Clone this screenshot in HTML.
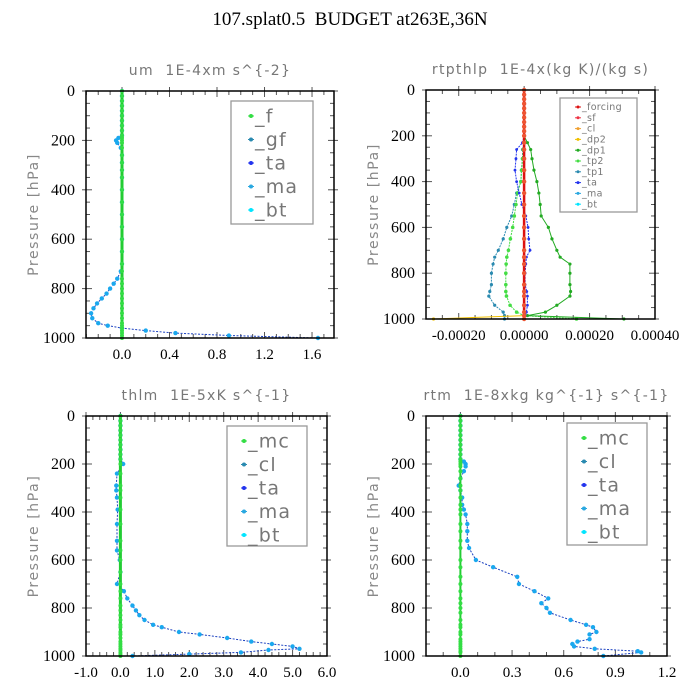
<!DOCTYPE html>
<html><head><meta charset="utf-8"><style>
body{margin:0;background:#fff;}
svg{display:block;}
text{white-space:pre;}
.t{font-family:"Liberation Serif",serif;}
.s{font-family:"DejaVu Sans","Liberation Sans",sans-serif;}
</style></head><body>
<svg id="c" width="700" height="700" viewBox="0 0 700 700" xmlns="http://www.w3.org/2000/svg">
<text class="t" x="350" y="25" text-anchor="middle" font-size="19" xml:space="preserve">107.splat0.5  BUDGET at263E,36N</text>
</svg>
<script>
// ---- Panel 1: um ----
const umLev = [0,20,40,60,80,100,120,140,160,180,190,200,210,230,260,290,320,350,400,450,500,550,600,650,700,730,760,780,800,820,840,860,880,900,920,940,950,960,970,980,990,1000];
const umMain = [0,0,0,0,0,0,0,0,0,0,-0.03,-0.05,-0.04,-0.01,0,0,0,0,0,0,0,0,0,0,0,-0.01,-0.04,-0.07,-0.10,-0.13,-0.17,-0.21,-0.24,-0.26,-0.25,-0.20,-0.12,0.0,0.2,0.45,0.9,1.65];
const umF = umLev.map(()=>0);
const umTicksX = [0.0,0.4,0.8,1.2,1.6];
const umTickLbl = ["0.0","0.4","0.8","1.2","1.6"];
// ---- Panel 2: rtpthlp ----
const rtLev = [0,20,40,60,80,100,120,140,160,180,200,230,260,300,350,400,450,500,550,600,650,700,730,760,800,850,880,900,940,970,985,1000];
const rtDp1 = [0,0,0,0,0,0,0,0,0,0,0,0.00001,0.00002,0.000024,0.00003,0.000039,0.000045,0.000049,0.000052,0.000074,0.000085,0.0001,0.00011,0.00014,0.00014,0.00014,0.000142,0.00014,0.0001,0.000065,0.00001,0.000305];
const rtTp2 = [0,0,0,0,0,0,0,0,0,0,0,0,-0.000003,-0.000005,-0.000008,-0.00001,-0.00002,-0.000025,-0.00003,-0.000035,-0.000042,-0.000048,-0.000053,-0.000055,-0.000056,-0.000056,-0.000056,-0.000054,-0.000043,-0.000023,0,0.00016];
const rtTp1 = [0,0,0,0,0,0,0,0,0,0,0,0,-0.000005,-0.000005,-0.000008,-0.00001,-0.000023,-0.00003,-0.000038,-0.000053,-0.000064,-0.000079,-0.00009,-0.000095,-0.0001,-0.0001,-0.000105,-0.000108,-0.00009,-0.000064,-0.00006,-0.00006];
const rtTa = [0,0,0,0,0,0,0,0,0,0,0,-0.000005,-0.000023,-0.000025,-0.000028,-0.000023,-0.000015,-0.000007,0.000005,0.000012,0.000014,0.000018,0.000007,0.000005,0.000003,0.000003,0.000008,0.00001,0.00001,0.000007,0.000003,0];
const rtDp2 = [0,0,0,0,0,0,0,0,0,0,0,0,0,0,0,0,0,0,0,0,0,0,0,0,0,0,0,0,0,0,0,-0.000277];
const rtTicksX = [-0.0002,0,0.0002,0.0004];
const rtTickLbl = ["-0.00020","0.00000","0.00020","0.00040"];
// ---- Panel 3: thlm ----
const thLev = [0,20,40,60,80,100,120,140,160,180,200,240,290,310,340,390,450,520,560,600,650,700,730,760,790,810,830,850,870,880,900,910,925,940,950,960,970,975,985,992,1000];
const thMain = [0,0,0,0,0,0,0,0,0,0,0.08,-0.1,-0.12,-0.12,-0.1,-0.08,-0.1,-0.1,-0.1,-0.02,0,-0.1,0.1,0.2,0.35,0.45,0.55,0.7,0.95,1.2,1.7,2.3,3.1,3.8,4.4,5.0,5.2,4.3,3.5,2.0,0.35];
const thTicksX = [-1,0,1,2,3,4,5,6];
const thTickLbl = ["-1.0","0.0","1.0","2.0","3.0","4.0","5.0","6.0"];
// ---- Panel 4: rtm ----
const rmLev = [0,20,40,60,80,100,120,140,160,180,190,200,210,230,260,290,310,340,370,390,410,450,480,520,550,600,630,670,700,730,760,780,800,820,850,870,880,900,910,930,940,950,960,970,980,985,1000];
const rmMain = [0,0,0,0,0,0,0,0,0,0,0.02,0.03,0.03,0.02,0,-0.01,0,0.01,0.01,0.02,0.03,0.04,0.04,0.04,0.05,0.09,0.19,0.33,0.34,0.43,0.51,0.47,0.5,0.52,0.64,0.73,0.77,0.79,0.75,0.75,0.68,0.65,0.66,0.78,1.03,1.05,0.83];
const rmTicksX = [0,0.3,0.6,0.9,1.2];
const rmTickLbl = ["0.0","0.3","0.6","0.9","1.2"];
const pTicks = [0,200,400,600,800,1000];

const NS='http://www.w3.org/2000/svg';
const svg=document.getElementById('c');
function mk(tag,attrs,parent){const e=document.createElementNS(NS,tag);for(const k in attrs)e.setAttribute(k,attrs[k]);(parent||svg).appendChild(e);return e;}

function panel(o){
  const g=mk('g',{});
  
  
  const X=v=>o.x0+(v-o.xmin)/(o.xmax-o.xmin)*(o.x1-o.x0);
  const Y=p=>o.y0+p/1000*(o.y1-o.y0);
  const tt=mk('text',{x:(o.x0+o.x1)/2,y:o.y0-16,'text-anchor':'middle','font-size':14,'letter-spacing':1.3,fill:'#777','class':'s'},g);
  tt.textContent=o.title;
  
  
  const yl=mk('text',{x:0,y:0,'text-anchor':'middle','font-size':14,'letter-spacing':1.6,fill:'#888','class':'s',transform:`translate(${o.x0-48},${(o.y0+o.y1)/2}) rotate(-90)`},g);
  yl.textContent='Pressure [hPa]';
  
  
  for(let p=0;p<=1000;p+=50){
    const maj=p%200===0, L=maj?6:4;
    mk('line',{x1:o.x0,x2:o.x0+L,y1:Y(p),y2:Y(p),stroke:'#555','stroke-width':1},g);
    mk('line',{x1:o.x1-L,x2:o.x1+(maj?4:0),y1:Y(p),y2:Y(p),stroke:'#555','stroke-width':1},g);
    if(maj){mk('line',{x1:o.x0-4,x2:o.x0,y1:Y(p),y2:Y(p),stroke:'#555'},g);}
  }
  pTicks.forEach(p=>{
    const t=mk('text',{x:o.x0-11,y:Y(p)+5,'text-anchor':'end','font-size':16,'class':'t'},g);
    t.textContent=String(p);
    
    
  });
  const step=(o.ticks[1]-o.ticks[0])/o.minor;
  for(let v=o.ticks[0]-step*o.minor*2;v<=o.xmax+1e-12;v+=step){
    if(v<o.xmin-1e-12)continue;
    const idx=Math.round((v-o.ticks[0])/step), maj=idx%o.minor===0, L=maj?6:4;
    mk('line',{x1:X(v),x2:X(v),y1:o.y1,y2:o.y1-L,stroke:'#555'},g);
    mk('line',{x1:X(v),x2:X(v),y1:o.y0,y2:o.y0+L,stroke:'#555'},g);
    if(maj){mk('line',{x1:X(v),x2:X(v),y1:o.y0-4,y2:o.y0,stroke:'#555'},g);}
  }
  o.ticks.forEach((v,i)=>{
    const t=mk('text',{x:X(v),y:o.y1+21,'text-anchor':'middle','font-size':15,'class':'t'},g);
    t.textContent=o.labels[i];
    
    
  });
  o.series.forEach(s=>{
    const pts=s.vals.map((v,i)=>X(v).toFixed(1)+','+Y(s.lev[i]).toFixed(1)).join(' ');
    const pl=mk('polyline',{points:pts,fill:'none',stroke:s.color,'stroke-width':s.w||1,'stroke-dasharray':s.dash||''},g);
    
    
    s.vals.forEach((v,i)=>{
      const c=mk('circle',{cx:X(v),cy:Y(s.lev[i]),r:s.r||2,fill:s.mc||s.color},g);
      
      
    });
  });
  mk('rect',{x:o.x0,y:o.y0,width:o.x1-o.x0,height:o.y1-o.y0,fill:'none',stroke:'#000','stroke-width':1.5},g);
  const lg=o.legend;
  const lr=mk('rect',{x:lg.x,y:lg.y,width:lg.w,height:lg.h,fill:'#fff',stroke:'#999','stroke-width':1.3},g);
  
  
  lg.items.forEach((it,i)=>{
    const yy=lg.y+lg.first+i*lg.dy;
    mk('line',{x1:lg.mx-3,x2:lg.mx+3,y1:yy,y2:yy,stroke:it[1]},g);
    mk('circle',{cx:lg.mx,cy:yy,r:lg.fs>12?2:1.5,fill:it[1]},g);
    const t=mk('text',{x:lg.mx+4,y:yy+lg.fs*0.33,'font-size':lg.fs,'letter-spacing':lg.fs>12?1.2:0.3,fill:'#777','class':'s'},g);
    t.textContent=it[0];
    
    
  });
}

panel({name:'um-panel',title:'um  1E-4xm s^{-2}',x0:86,x1:334,y0:91,y1:338,xmin:-0.303,xmax:1.785,ticks:umTicksX,labels:umTickLbl,minor:4,
  series:[{id:'gf',lev:umLev,vals:umMain,color:'#1a40c0',dash:'2,1.5',r:2.2,mc:'#1aa8ee'},{id:'f',lev:umLev,vals:umF,color:'#22cc33',w:3,r:2,mc:'#33dd44'}],
  legend:{x:231,y:101,w:82,h:123,mx:251,first:15,dy:23.5,fs:19,items:[['_f','#33dd44'],['_gf','#2a8ab0'],['_ta','#2233ee'],['_ma','#2aa8e0'],['_bt','#00e5ff']]}});

panel({name:'rtpthlp-panel',title:'rtpthlp  1E-4x(kg K)/(kg s)',x0:426,x1:655,y0:90,y1:319,xmin:-0.0003,xmax:0.0004,ticks:rtTicksX,labels:rtTickLbl,minor:4,
  series:[
   {id:'tp1',lev:rtLev,vals:rtTp1,color:'#2a8ab0',dash:'2,1',r:1.6},
   {id:'tp2',lev:rtLev,vals:rtTp2,color:'#44dd44',dash:'2,1',r:1.8},
   {id:'dp1',lev:rtLev,vals:rtDp1,color:'#22aa22',r:1.6},
   {id:'ta',lev:rtLev,vals:rtTa,color:'#2233ee',dash:'2,1',r:1.4},
   {id:'dp2',lev:rtLev,vals:rtDp2,color:'#f0c000',r:1.6},
   {id:'forcing',lev:rtLev,vals:rtLev.map(()=>0),color:'#dd1111',w:2.5,r:2.2,mc:'#ee5533'}],
  legend:{x:560,y:98,w:77,h:114,mx:578,first:9,dy:10.8,fs:9.5,items:[['_forcing','#dd1111'],['_sf','#ee3344'],['_cl','#f0a030'],['_dp2','#f0c000'],['_dp1','#22aa22'],['_tp2','#44dd44'],['_tp1','#2a8ab0'],['_ta','#2233ee'],['_ma','#2aa8e0'],['_bt','#00e5ff']]}});

panel({name:'thlm-panel',title:'thlm  1E-5xK s^{-1}',x0:86,x1:327,y0:416,y1:656,xmin:-1,xmax:6,ticks:thTicksX,labels:thTickLbl,minor:5,
  series:[{id:'cl',lev:thLev,vals:thMain,color:'#1a40c0',dash:'2,1.5',r:2.2,mc:'#1aa8ee'},{id:'mc',lev:thLev,vals:thLev.map(()=>0),color:'#22cc33',w:3,r:2,mc:'#33dd44'}],
  legend:{x:227,y:426,w:80,h:120,mx:244,first:15,dy:23.5,fs:19,items:[['_mc','#33dd44'],['_cl','#2a8ab0'],['_ta','#2233ee'],['_ma','#2aa8e0'],['_bt','#00e5ff']]}});

panel({name:'rtm-panel',title:'rtm  1E-8xkg kg^{-1} s^{-1}',x0:426,x1:667,y0:416,y1:656,xmin:-0.2,xmax:1.2,ticks:rmTicksX,labels:rmTickLbl,minor:3,
  series:[{id:'cl',lev:rmLev,vals:rmMain,color:'#1a40c0',dash:'2,1.5',r:2.2,mc:'#1aa8ee'},{id:'mc',lev:rmLev,vals:rmLev.map(()=>0),color:'#22cc33',w:2,r:2,mc:'#33dd44'}],
  legend:{x:567,y:423,w:80,h:122,mx:584,first:15,dy:23.5,fs:19,items:[['_mc','#33dd44'],['_cl','#2a8ab0'],['_ta','#2233ee'],['_ma','#2aa8e0'],['_bt','#00e5ff']]}});
</script>
</body></html>
